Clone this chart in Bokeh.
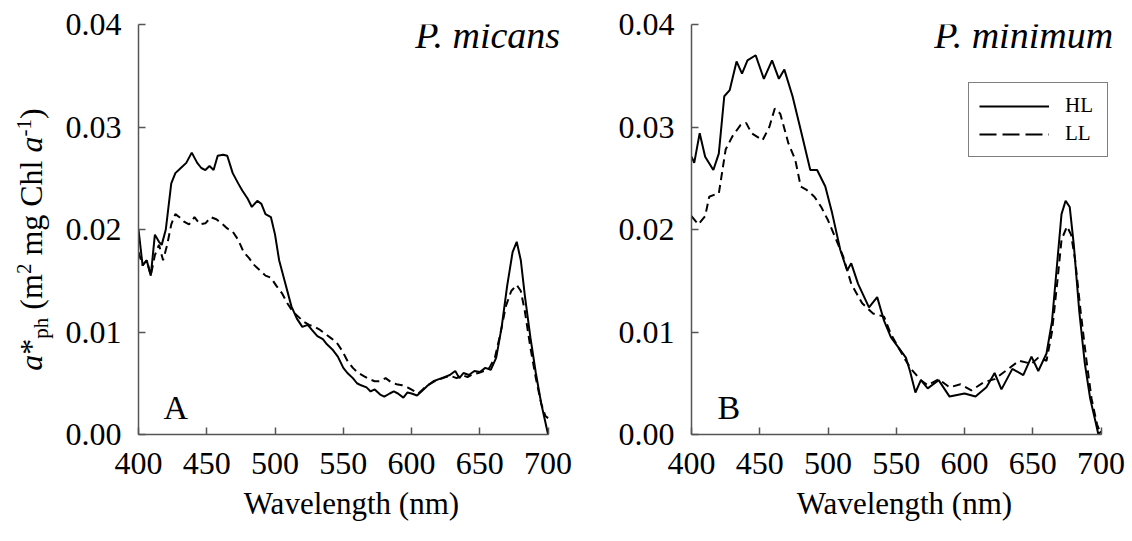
from bokeh.plotting import figure
from bokeh.models import Range1d, Label, Legend, LegendItem, PrintfTickFormatter, FixedTicker
from bokeh.layouts import row
from bokeh.embed import file_html
from bokeh.resources import INLINE

# ---------------- data ----------------
x_ticks = [400, 450, 500, 550, 600, 650, 700]
y_ticks = [0.0, 0.01, 0.02, 0.03, 0.04]

micans_hl_wl = [400, 403, 406, 409, 412, 415, 417, 420, 424, 427, 431, 435, 439, 443, 446, 449, 452, 455,
                458, 462, 465, 469, 473, 476, 480, 483, 487, 490, 493, 497, 500, 503, 507, 512, 516, 520,
                524, 527, 531, 535, 538, 542, 546, 550, 553, 557, 560, 563, 567, 570, 573, 577, 580, 584,
                587, 590, 594, 597, 600, 604, 608, 612, 616, 620, 624, 628, 632, 635, 638, 642, 646, 650,
                654, 658, 662, 666, 670, 674, 677, 680, 683, 687, 691, 695, 698, 700]
micans_hl = [0.0200, 0.0165, 0.0170, 0.0155, 0.0195, 0.0188, 0.0185, 0.0200, 0.0245, 0.0255, 0.0260, 0.0265,
             0.0275, 0.0265, 0.0260, 0.0258, 0.0262, 0.0258, 0.0272, 0.0273, 0.0272, 0.0255, 0.0245, 0.0238,
             0.0230, 0.0222, 0.0228, 0.0225, 0.0215, 0.0212, 0.0195, 0.0170, 0.0150, 0.0125, 0.0113, 0.0105,
             0.0107, 0.0102, 0.0096, 0.0093, 0.0088, 0.0083, 0.0076, 0.0065, 0.0060, 0.0055, 0.0050, 0.0048,
             0.0046, 0.0042, 0.0044, 0.0039, 0.0037, 0.0040, 0.0042, 0.0040, 0.0036, 0.0041, 0.0040, 0.0038,
             0.0043, 0.0048, 0.0052, 0.0054, 0.0056, 0.0058, 0.0062, 0.0055, 0.0060, 0.0058, 0.0062, 0.0061,
             0.0065, 0.0063, 0.0075, 0.0105, 0.0145, 0.0178, 0.0188, 0.0170, 0.0135, 0.0095, 0.0060, 0.0030,
             0.0012, 0.0000]

micans_ll_wl = [400, 403, 406, 409, 412, 415, 418, 421, 424, 427, 430, 433, 437, 441, 445, 449, 453, 457,
                461, 465, 469, 473, 477, 481, 485, 489, 493, 497, 501, 505, 509, 513, 517, 521, 525, 529,
                533, 537, 541, 545, 549, 553, 557, 561, 565, 569, 573, 577, 581, 585, 589, 593, 597, 601,
                605, 609, 613, 617, 621, 625, 629, 633, 637, 641, 645, 649, 653, 657, 661, 665, 669, 673,
                677, 680, 683, 687, 691, 695, 698, 700]
micans_ll = [0.0178, 0.0165, 0.0170, 0.0155, 0.0175, 0.0185, 0.0170, 0.0185, 0.0205, 0.0215, 0.0212, 0.0208,
             0.0205, 0.0212, 0.0205, 0.0206, 0.0212, 0.0210, 0.0206, 0.0201, 0.0198, 0.0190, 0.0178, 0.0172,
             0.0165, 0.0160, 0.0155, 0.0153, 0.0145, 0.0138, 0.0128, 0.0120, 0.0115, 0.0110, 0.0107, 0.0105,
             0.0102, 0.0098, 0.0094, 0.0090, 0.0082, 0.0072, 0.0065, 0.0060, 0.0057, 0.0054, 0.0052, 0.0052,
             0.0055, 0.0051, 0.0049, 0.0048, 0.0046, 0.0043, 0.0040, 0.0045, 0.0049, 0.0052, 0.0054, 0.0056,
             0.0057, 0.0055, 0.0058, 0.0056, 0.0059, 0.0060, 0.0062, 0.0065, 0.0075, 0.0098, 0.0125, 0.0140,
             0.0146, 0.0140, 0.0120, 0.0085, 0.0055, 0.0030, 0.0018, 0.0016]

minimum_hl_wl = [400, 402, 406, 410, 416, 420, 424, 428, 433, 437, 441, 447, 453, 459, 464, 468, 474, 480,
                 487, 492, 498, 503, 509, 514, 517, 522, 530, 536, 541, 546, 557, 560, 564, 568, 573, 581,
                 589, 600, 608, 616, 622, 627, 635, 643, 649, 654, 660, 664, 668, 671, 674, 677, 680, 684,
                 688, 692, 696, 698, 700]
minimum_hl = [0.0271, 0.0265, 0.0294, 0.0271, 0.0258, 0.0274, 0.0330, 0.0336, 0.0364, 0.0352, 0.0365, 0.0370,
              0.0347, 0.0365, 0.0347, 0.0356, 0.0330, 0.0297, 0.0258, 0.0258, 0.0242, 0.0216, 0.0180, 0.0160,
              0.0167, 0.0147, 0.0124, 0.0134, 0.0111, 0.0095, 0.0075, 0.0062, 0.0041, 0.0053, 0.0045, 0.0053,
              0.0037, 0.0040, 0.0037, 0.0046, 0.0060, 0.0044, 0.0064, 0.0058, 0.0076, 0.0062, 0.0079, 0.0110,
              0.0170, 0.0215, 0.0228, 0.0222, 0.0185, 0.0120, 0.0070, 0.0035, 0.0012, 0.0000, 0.0003]

minimum_ll_wl = [400, 405, 410, 413, 417, 420, 425, 430, 436, 440, 444, 452, 457, 461, 465, 471, 476, 480,
                 484, 490, 495, 500, 506, 511, 517, 525, 533, 541, 546, 557, 562, 568, 573, 581, 589, 597,
                 605, 614, 622, 630, 640, 649, 654, 660, 664, 668, 671, 675, 678, 681, 685, 689, 693, 697,
                 700]
minimum_ll = [0.0213, 0.0205, 0.0213, 0.0232, 0.0234, 0.0235, 0.0278, 0.0291, 0.0302, 0.0304, 0.0294, 0.0287,
              0.0300, 0.0318, 0.0313, 0.0284, 0.0268, 0.0242, 0.0239, 0.0232, 0.0222, 0.0209, 0.0190, 0.0174,
              0.0147, 0.0128, 0.0118, 0.0115, 0.0098, 0.0072, 0.0062, 0.0053, 0.0048, 0.0054, 0.0046, 0.0049,
              0.0043, 0.0051, 0.0054, 0.0062, 0.0072, 0.0069, 0.0075, 0.0072, 0.0100, 0.0150, 0.0190, 0.0203,
              0.0195, 0.0170, 0.0120, 0.0075, 0.0035, 0.0010, 0.0000]

series_labels = ["HL", "LL"]
panel_titles = ["P. micans", "P. minimum"]
panel_letters = ["A", "B"]
x_label = "Wavelength (nm)"

# ---------------- style ----------------
FONT = "Liberation Serif"
AXIS_COLOR = "#555555"
DASH = "8 5"
LEGEND_DASH = "17 6"
H = 541
TOP = 24
BOTTOM = 107
FRAME_H = H - TOP - BOTTOM


def make_panel(width, border_left, border_right):
    # x range runs a little past 700 so texts near the right edge are not clipped;
    # the axis itself is bounded to 400-700
    p = figure(width=width, height=H, x_range=Range1d(400, 712), y_range=Range1d(0, 0.04),
               output_backend="svg", toolbar_location=None,
               min_border_left=border_left, min_border_right=border_right,
               min_border_top=TOP, min_border_bottom=BOTTOM)
    p.grid.visible = False
    p.outline_line_color = None
    p.background_fill_color = "white"
    p.border_fill_color = "white"
    for ax in (p.xaxis[0], p.yaxis[0]):
        ax.axis_line_color = AXIS_COLOR
        ax.axis_line_width = 1.5
        ax.major_tick_line_color = AXIS_COLOR
        ax.major_tick_line_width = 1.5
        ax.major_tick_in = 7
        ax.major_tick_out = 0
        ax.minor_tick_line_color = None
        ax.major_label_text_font = FONT
        ax.major_label_text_font_size = "32px"
        ax.major_label_text_color = "black"
    p.xaxis.bounds = (400, 700)
    p.xaxis.ticker = FixedTicker(ticks=x_ticks)
    p.yaxis.ticker = FixedTicker(ticks=y_ticks)
    p.yaxis.formatter = PrintfTickFormatter(format="%.2f")
    p.xaxis.major_label_standoff = 18
    p.yaxis.major_label_standoff = 17
    p.xaxis.axis_label = x_label
    p.xaxis.axis_label_text_font = FONT
    p.xaxis.axis_label_text_font_size = "31px"
    p.xaxis.axis_label_text_font_style = "normal"
    p.xaxis.axis_label_text_color = "black"
    p.xaxis.axis_label_standoff = 9
    return p


# narrow figure that only carries the rotated y-axis title (its frame is aligned with the panels')
p0 = figure(width=56, height=H, x_range=Range1d(0, 56), y_range=Range1d(0, FRAME_H),
            output_backend="svg", toolbar_location=None, x_axis_location=None, y_axis_location=None,
            min_border_left=0, min_border_right=0, min_border_top=TOP, min_border_bottom=BOTTOM)
p0.grid.visible = False
p0.outline_line_color = None
p0.border_fill_color = "white"
p0.background_fill_color = "white"

p1 = make_panel(518, 82, 10)
p2 = make_panel(558, 117, 15)

p1.line(micans_hl_wl, micans_hl, line_color="black", line_width=2)
p1.line(micans_ll_wl, micans_ll, line_color="black", line_width=2, line_dash=DASH)
r2h = p2.line(minimum_hl_wl, minimum_hl, line_color="black", line_width=2)
p2.line(minimum_ll_wl, minimum_ll, line_color="black", line_width=2, line_dash=DASH)

# legend swatch for LL uses longer dashes: same series drawn on an off-screen range
p2.extra_y_ranges = {"legend_off": Range1d(1, 2)}
leg_ll = p2.line(minimum_ll_wl, minimum_ll, line_color="black", line_width=2, line_dash=LEGEND_DASH,
                 y_range_name="legend_off")

# titles and panel letters
for p, t, letter, lx in ((p1, panel_titles[0], panel_letters[0], 25), (p2, panel_titles[1], panel_letters[1], 26)):
    p.add_layout(Label(x=700, y=0.04, x_offset=12, y_offset=-10, text=t, text_align="right",
                       text_baseline="middle", text_font=FONT, text_font_size="38px",
                       text_font_style="italic", text_color="black"))
    p.add_layout(Label(x=400, y=0, x_offset=lx, y_offset=27, text=letter, text_align="left",
                       text_baseline="middle", text_font=FONT, text_font_size="34px",
                       text_color="black"))

legend = Legend(items=[LegendItem(label=series_labels[0], renderers=[r2h]),
                       LegendItem(label=series_labels[1], renderers=[leg_ll])],
                location=(277, 277), orientation="vertical",
                label_text_font=FONT, label_text_font_size="21px", label_text_color="black",
                glyph_width=70, glyph_height=22, label_height=22, label_width=32, label_standoff=16,
                padding=10, spacing=3, margin=0,
                border_line_color="black", border_line_width=1, background_fill_color="white",
                background_fill_alpha=1.0)
p2.add_layout(legend)

# y axis title from pieces (rotated): a*_ph (m^2 mg Chl a^-1)
F = 32
S = 21
TW = {'a': 0.444, '*': 0.5, 'p': 0.5, 'h': 0.5, ' ': 0.25, '(': 0.333, 'm': 0.778, '2': 0.5,
      'g': 0.5, 'C': 0.667, 'l': 0.278, '-': 0.333, '1': 0.5, ')': 0.333}
# (text, style, size, baseline shift in px; + = subscript, - = superscript)
ylab_parts = [("a", "italic", F, 0), ("*", "normal", F, 0), ("ph", "normal", S, 6),
              (" (m", "normal", F, 0), ("2", "normal", S, -11), (" mg Chl ", "normal", F, 0),
              ("a", "italic", F, 0), ("-1", "normal", S, -11), (")", "normal", F, 0)]


def width_of(txt, style, size):
    w = 0
    for ch in txt:
        if style == "italic" and ch == 'a':
            w += 0.5
        else:
            w += TW.get(ch, 0.5)
    return w * size


total = sum(width_of(t, s, z) for t, s, z, _ in ylab_parts)
center_y = 239      # screen px from top of page
baseline_x = 41     # screen px from left of page
pos = center_y + total / 2.0
for t, s, z, shift in ylab_parts:
    lead = len(t) - len(t.lstrip(' '))
    start = pos - lead * 0.25 * z
    txt = t.strip(' ')
    mid_x = baseline_x + shift - 0.32 * z
    p0.add_layout(Label(x=mid_x, y=(H - BOTTOM) - start, text=txt, angle=1.5707963267948966,
                        text_align="left", text_baseline="middle",
                        text_font=FONT, text_font_size=f"{z}px", text_font_style=s, text_color="black"))
    pos -= width_of(t, s, z)

layout = row(p0, p1, p2)
open("out.html", "w").write(file_html(layout, INLINE))
